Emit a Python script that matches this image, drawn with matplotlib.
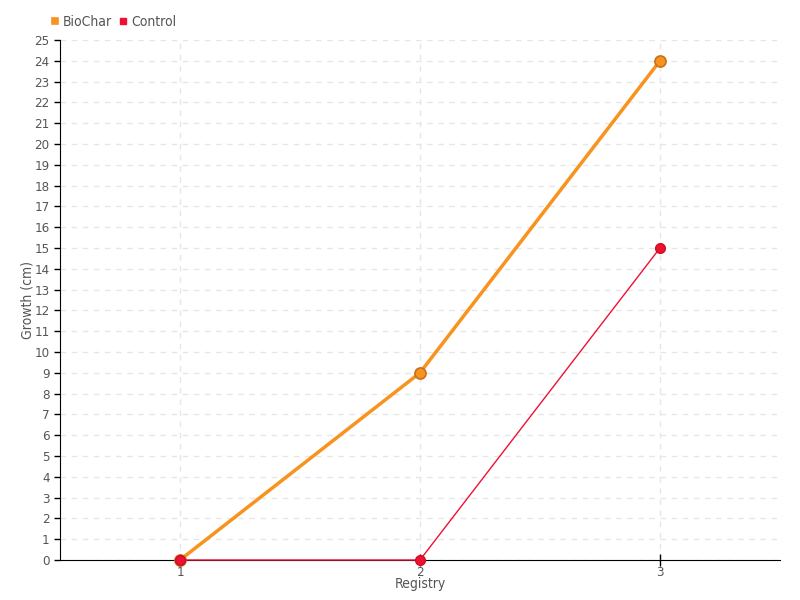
import matplotlib
matplotlib.use("Agg")
import matplotlib.pyplot as plt

# data
registry = [1, 2, 3]
biochar = [0, 9, 24]
control = [0, 0, 15]
yticks = list(range(0, 26))

plt.rcParams['font.family'] = ['DejaVu Sans']
plt.rcParams['font.stretch'] = 'condensed'
text_col = '#555555'

fig = plt.figure(figsize=(8, 6), dpi=100)
ax = fig.add_axes([0.075, 0.0667, 0.9, 0.8667])

ax.plot(registry, biochar, color='#f7931e', lw=2.5, marker='o', ms=8,
        mfc='#f7931e', mec='#c8701a', mew=1.2, label='BioChar', zorder=3,
        clip_on=False)
ax.plot(registry, control, color='#ee1133', lw=1, marker='o', ms=7,
        mfc='#ee1133', mec='#cc1020', label='Control', zorder=4,
        clip_on=False)

ax.set_xlim(0.5, 3.5)
ax.set_ylim(0, 25)
ax.set_xticks(registry)
ax.set_yticks(yticks)
ax.tick_params(axis='both', colors=text_col, labelsize=9.5, length=4, width=1)
ax.tick_params(axis='both', color='black')
ax.tick_params(axis='x', direction='inout', length=8, pad=0)

ax.grid(True, color='#e6e6e6', linestyle=(0, (4, 4)), lw=1)
ax.set_axisbelow(True)
for s in ['top', 'right']:
    ax.spines[s].set_visible(False)
ax.spines['left'].set_color('black')
ax.spines['bottom'].set_color('black')

ax.set_xlabel('Registry', color=text_col, fontsize=10, labelpad=-1)
ax.set_ylabel('Growth (cm)', color=text_col, fontsize=10, labelpad=0)

leg = ax.legend(loc='lower left', bbox_to_anchor=(-0.02, 1.01), ncol=2,
                frameon=False, fontsize=10, handlelength=0.5, handletextpad=0.3,
                columnspacing=0.6, borderaxespad=0)
for h, c in zip(leg.legend_handles, ['#f7931e', '#ee1133']):
    h.set_linestyle('')
    h.set_marker('s')
    h.set_markersize(5)
    h.set_markerfacecolor(c)
    h.set_markeredgecolor(c)
for t in leg.get_texts():
    t.set_color(text_col)

fig.savefig('out.png', dpi=100)
